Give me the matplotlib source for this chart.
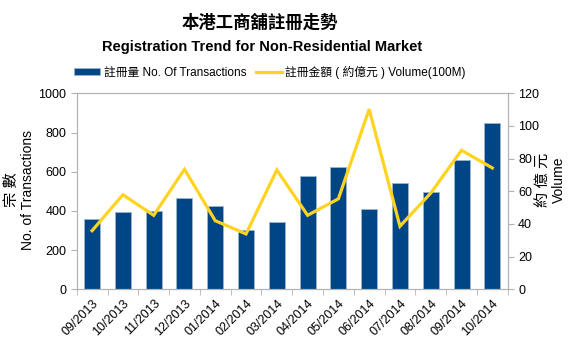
import matplotlib
matplotlib.use("Agg")
import matplotlib.pyplot as plt
import numpy as np

plt.rcParams['font.family'] = ['Liberation Sans', 'Noto Sans CJK TC', 'DejaVu Sans']

months = ['09/2013', '10/2013', '11/2013', '12/2013', '01/2014', '02/2014', '03/2014',
          '04/2014', '05/2014', '06/2014', '07/2014', '08/2014', '09/2014', '10/2014']
transactions = [360, 396, 398, 465, 425, 301, 343, 579, 623, 411, 540, 494, 658, 848]
volume = [35.9, 57.9, 45.3, 73.5, 42.0, 33.9, 73.1, 45.3, 55.4, 110.3, 38.6, 58.9, 85.1, 74.3]

BLUE = '#004586'
GOLD = '#ffd320'
GREY = '#b3b3b3'

fig = plt.figure(figsize=(5.7, 3.6), dpi=100)
ax = fig.add_axes([0.1346, 0.1964, 0.7561, 0.5444])
ax2 = ax.twinx()

x = np.arange(len(months))
bars = ax.bar(x, transactions, width=0.52, color=BLUE, edgecolor='#9db3cc',
              linewidth=0.6, label='註冊量 No. Of Transactions', zorder=2)
line, = ax2.plot(x, volume, color=GOLD, lw=2.3, solid_joinstyle='miter',
                 label='註冊金額 ( 約億元 ) Volume(100M)', zorder=3)

ax.set_xlim(-0.5, len(months) - 0.5)
ax.set_ylim(0, 1000)
ax.set_yticks(range(0, 1001, 200))
ax2.set_ylim(0, 120)
ax2.set_yticks(range(0, 121, 20))

ax.set_xticks(x)
ax.set_xticklabels(months, rotation=45, ha='right', rotation_mode='anchor')
ax.set_xticks(np.arange(-0.5, len(months), 1), minor=True)
ax.tick_params(axis='x', which='major', length=0, labelsize=9, pad=6)
ax.tick_params(axis='x', which='minor', length=4, color=GREY)
ax.tick_params(axis='y', length=4, color=GREY, labelsize=9)
ax2.tick_params(axis='y', length=4, color=GREY, labelsize=9)

for a in (ax, ax2):
    for s in a.spines.values():
        s.set_color(GREY)
ax2.set_zorder(ax.get_zorder() + 1)
ax2.patch.set_visible(False)

fig.text(260 / 570, 1 - 22 / 360, '本港工商舖註冊走勢', ha='center', va='center',
         fontsize=12.5, fontweight='bold')
fig.text(262 / 570, 1 - 47 / 360, 'Registration Trend for Non-Residential Market',
         ha='center', va='center', fontsize=10.5, fontweight='bold')

fig.legend(handles=[bars, line], loc='center', bbox_to_anchor=(270 / 570, 1 - 72 / 360),
           ncol=2, frameon=False, fontsize=8.5, handlelength=2.2, handleheight=0.5,
           columnspacing=0.8, handletextpad=0.3)

fig.text(12 / 570, 1 - 190 / 360, '宗 數', rotation=90, ha='center', va='center', fontsize=11)
fig.text(28 / 570, 1 - 190 / 360, 'No. of Transactions', rotation=90, ha='center',
         va='center', fontsize=10)
fig.text(544 / 570, 1 - 180 / 360, '約 億 元', rotation=90, ha='center', va='center', fontsize=11)
fig.text(559 / 570, 1 - 180 / 360, 'Volume', rotation=90, ha='center', va='center', fontsize=10)

fig.savefig('out.png', dpi=100)
